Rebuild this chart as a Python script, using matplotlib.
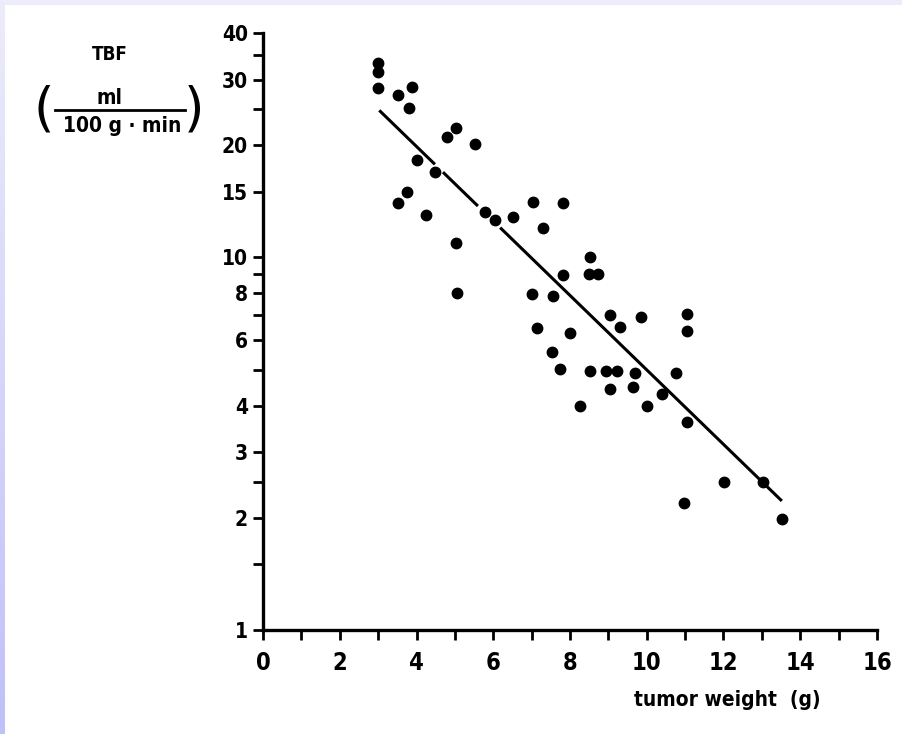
import numpy as np
import matplotlib
matplotlib.use("Agg")
import matplotlib.pyplot as plt
from matplotlib.lines import Line2D
from matplotlib.ticker import FixedLocator, NullFormatter
from matplotlib import font_manager

# ---- data ----
tumor_weight = [3.0, 3.0, 3.0, 3.52, 3.89, 3.81, 4.79, 5.03, 5.53, 4.0, 4.49,
                3.51, 3.74, 4.26, 5.03, 5.79, 6.05, 6.51, 5.05,
                7.04, 7.82, 7.30, 8.52, 8.49, 8.74, 7.83, 7.02, 7.56,
                9.03, 9.84, 11.04, 11.04, 7.15, 9.29, 8.0, 7.52, 7.75,
                8.52, 8.94, 9.23, 9.70, 10.77, 9.03, 9.65, 10.39, 8.26,
                10.01, 11.04, 12.02, 10.96, 13.03, 13.52]
tbf = [33.2, 31.4, 28.5, 27.2, 28.7, 25.2, 21.1, 22.2, 20.1, 18.2, 16.9,
       14.0, 15.0, 13.0, 10.9, 13.2, 12.6, 12.8, 8.0,
       14.1, 14.0, 12.0, 10.0, 9.0, 9.0, 8.95, 7.95, 7.9,
       7.0, 6.9, 7.05, 6.35, 6.46, 6.5, 6.27, 5.58, 5.01,
       4.95, 4.95, 4.95, 4.9, 4.9, 4.44, 4.5, 4.3, 4.0,
       4.0, 3.61, 2.5, 2.19, 2.5, 1.98]

# regression line end points and the short breaks in the printed line
fit_x = [3.03, 13.52]
fit_y = [24.8, 2.22]
fit_breaks = [(4.48, 4.69), (5.60, 6.18)]

x_ticks = list(range(0, 17))
x_labels = ["0", "2", "4", "6", "8", "10", "12", "14", "16"]
y_major = [1, 2, 3, 4, 6, 8, 10, 15, 20, 30, 40]
y_minor = [1.5, 2.5, 5, 7, 9, 25, 35]

# pick a narrow font if one exists
names = {f.name for f in font_manager.fontManager.ttflist}
cond = [f for f in font_manager.fontManager.ttflist
        if f.name == "DejaVu Sans" and "ondensed" in f.fname and "Bold" in f.fname]
if "Liberation Sans Narrow" in names:
    FONT = dict(fontfamily="Liberation Sans Narrow", fontweight="bold")
elif cond:
    FONT = dict(fontproperties=font_manager.FontProperties(fname=cond[0].fname))
else:
    FONT = dict(fontfamily="DejaVu Sans", fontweight="bold", fontstretch="condensed")

def fp(size):
    if "fontproperties" in FONT:
        p = FONT["fontproperties"].copy()
        p.set_size(size)
        return dict(fontproperties=p)
    d = dict(FONT)
    d["fontsize"] = size
    return d

# ---- figure ----
W, H = 902, 734
fig = plt.figure(figsize=(W / 100, H / 100), dpi=100)
fig.patch.set_facecolor("white")

# lavender scan border (top + left gradient)
top = fig.add_axes([0, 1 - 5 / H, 1, 5 / H])
top.set_axis_off()
top.imshow(np.array([[[236, 236, 251]]], dtype=np.uint8), aspect="auto",
           extent=[0, 1, 0, 1])
left = fig.add_axes([0, 0, 5 / W, 1])
left.set_axis_off()
grad = np.linspace(0, 1, 256)[:, None]
c0 = np.array([236, 236, 251]) / 255
c1 = np.array([192, 192, 250]) / 255
img = (c0[None, None, :] * (1 - grad[..., None]) + c1[None, None, :] * grad[..., None])
left.imshow(img, aspect="auto", extent=[0, 1, 0, 1], origin="upper")

ax = fig.add_axes([263 / W, 1 - 630 / H, (877 - 263) / W, (630 - 33) / H])
ax.set_yscale("log")
ax.set_xlim(0, 16)
ax.set_ylim(1, 40)
for s in ("top", "right"):
    ax.spines[s].set_visible(False)
for s in ("left", "bottom"):
    ax.spines[s].set_linewidth(2.4)
    ax.spines[s].set_color("black")

ax.xaxis.set_major_locator(FixedLocator(x_ticks))
ax.yaxis.set_major_locator(FixedLocator(y_major))
ax.yaxis.set_minor_locator(FixedLocator(y_minor))
ax.yaxis.set_minor_formatter(NullFormatter())
ax.set_xticklabels([x_labels[i // 2] if i % 2 == 0 else "" for i in x_ticks], **fp(17))
ax.set_yticklabels([str(v) for v in y_major], **fp(15))
ax.tick_params(axis="both", which="both", direction="out", length=7, width=2,
               color="black")
ax.tick_params(axis="x", pad=8)
ax.tick_params(axis="y", pad=4)

ax.plot(tumor_weight, tbf, "o", color="black", markersize=7.5, zorder=3,
        clip_on=False)

# regression line with breaks
slope = (np.log10(fit_y[1]) - np.log10(fit_y[0])) / (fit_x[1] - fit_x[0])
def line_y(x):
    return 10 ** (np.log10(fit_y[0]) + slope * (x - fit_x[0]))
edges = [fit_x[0]]
for a, b in fit_breaks:
    edges += [a, b]
edges.append(fit_x[1])
for i in range(0, len(edges), 2):
    xs = np.array([edges[i], edges[i + 1]])
    ax.plot(xs, line_y(xs), color="black", linewidth=2.2, solid_capstyle="butt")

# y-axis label block
fig.text(110 / W, 1 - 54 / H, "TBF", ha="center", va="center", **fp(13.5))
fig.text(109 / W, 1 - 98 / H, "ml", ha="center", va="center", **fp(15))
fig.text(122 / W, 1 - 126 / H, "100 g · min", ha="center", va="center", **fp(15))
fig.add_artist(Line2D([55 / W, 185 / W], [1 - 110 / H, 1 - 110 / H],
                      color="black", linewidth=2))
fig.text(44 / W, 1 - 111 / H, "(", ha="center", va="center",
         fontfamily="DejaVu Sans", fontsize=38)
fig.text(194 / W, 1 - 111 / H, ")", ha="center", va="center",
         fontfamily="DejaVu Sans", fontsize=38)

# x-axis label
fig.text(727 / W, 1 - 700 / H, "tumor weight  (g)", ha="center", va="center",
         **fp(15))

fig.savefig("out.png", dpi=100, facecolor="white")
